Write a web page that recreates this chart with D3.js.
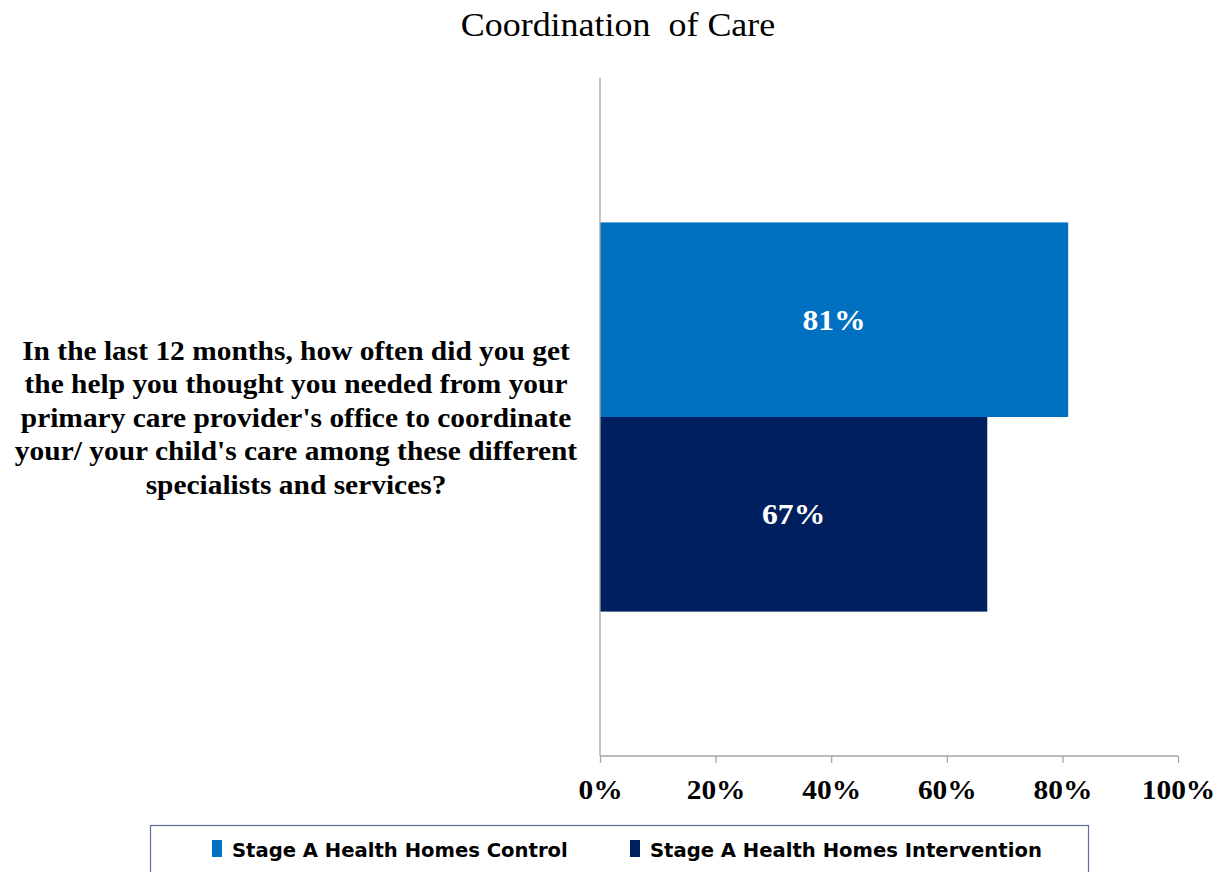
<!DOCTYPE html>
<html>
<head>
<meta charset="utf-8">
<script src="https://cdn.jsdelivr.net/npm/d3@7"></script>
<style>
  html, body { margin: 0; padding: 0; background: #fff; }
  svg { display: block; }
</style>
</head>
<body>
<svg id="chart" width="1223" height="872"></svg>
<script>
// Survey question (single category) and the two comparison groups
const questionLines = [
  "In the last 12 months, how often did you get",
  "the help you thought you needed from your",
  "primary care provider's office to coordinate",
  "your/ your child's care among these different",
  "specialists and services?"
];
const categories = ["coordination"];
const seriesNames = ["Stage A Health Homes Control", "Stage A Health Homes Intervention"];
const seriesColors = ["#0070C0", "#001F5F"];
const controlValues = [0.81];
const interventionValues = [0.67];
const xTicks = [0, 0.2, 0.4, 0.6, 0.8, 1.0];

const svg = d3.select("#chart");
const margin = { left: 600, right: 45, top: 78, bottom: 116 };
const W = 1223, H = 872;
const plotW = W - margin.left - margin.right;
const plotH = H - margin.top - margin.bottom;
const SX = 1.09;   // slightly widened lettering
const serif = "'Liberation Serif', 'Times New Roman', serif";

const x = d3.scaleLinear().domain([0, 1]).range([margin.left, margin.left + plotW]);
const y = d3.scaleBand().domain(categories).range([margin.top, margin.top + plotH])
  .paddingInner(0).paddingOuter(0.371);
const ySub = d3.scaleBand().domain(seriesNames).range([0, y.bandwidth()]).padding(0);

// Title
svg.append("text")
  .attr("transform", `translate(618,36) scale(${SX},1)`)
  .attr("text-anchor", "middle")
  .style("font-family", serif)
  .style("font-size", "33px")
  .attr("fill", "#000")
  .attr("xml:space", "preserve")
  .text("Coordination  of Care");

// Bars with value labels
const rows = categories.map((c, i) => ({
  cat: c,
  values: [controlValues[i], interventionValues[i]]
}));

const g = svg.append("g");
rows.forEach(r => {
  r.values.forEach((v, j) => {
    const yy = y(r.cat) + ySub(seriesNames[j]);
    g.append("rect")
      .attr("x", x(0))
      .attr("y", yy)
      .attr("width", x(v) - x(0))
      .attr("height", ySub.bandwidth())
      .attr("fill", seriesColors[j]);
    g.append("text")
      .attr("transform", `translate(${(x(0) + x(v)) / 2},${yy + ySub.bandwidth() / 2 + 10}) scale(${SX},1)`)
      .attr("text-anchor", "middle")
      .style("font-family", serif)
      .style("font-weight", "bold")
      .style("font-size", "29px")
      .attr("fill", "#fff")
      .text(d3.format(".0%")(v));
  });
});

// Vertical category axis line
svg.append("line")
  .attr("x1", x(0)).attr("x2", x(0))
  .attr("y1", margin.top).attr("y2", margin.top + plotH)
  .attr("stroke", "#a6a6a6").attr("stroke-width", 1.3);

// Category label
const lbl = svg.append("text")
  .attr("transform", `translate(296,0) scale(${SX},1)`)
  .attr("text-anchor", "middle")
  .style("font-family", serif)
  .style("font-weight", "bold")
  .style("font-size", "27px")
  .attr("fill", "#000");
questionLines.forEach((line, i) => {
  lbl.append("tspan")
    .attr("x", 0)
    .attr("y", 360 + i * 33.5)
    .text(line);
});

// Value axis
const xAxis = d3.axisBottom(x)
  .tickValues(xTicks)
  .tickFormat(d3.format(".0%"))
  .tickSize(7)
  .tickPadding(14);
const ax = svg.append("g")
  .attr("transform", `translate(0,${margin.top + plotH})`)
  .call(xAxis);
ax.select(".domain").attr("stroke", "#a6a6a6").attr("stroke-width", 1.3)
  .attr("d", `M${x(0)},0H${x(1)}`);
ax.selectAll(".tick line").attr("stroke", "#a6a6a6").attr("stroke-width", 1.3);
ax.selectAll(".tick text")
  .attr("y", 0).attr("dy", 0)
  .attr("transform", `translate(0,43) scale(${SX},1)`)
  .style("font-family", serif)
  .style("font-weight", "bold")
  .style("font-size", "27px")
  .attr("fill", "#000");

// Legend
svg.append("rect")
  .attr("x", 150.5).attr("y", 825.5)
  .attr("width", 938).attr("height", 60)
  .attr("fill", "#fff")
  .attr("stroke", "#5b6e96").attr("stroke-width", 1.2);

const legendX = [212, 630];
seriesNames.forEach((name, j) => {
  svg.append("rect")
    .attr("x", legendX[j]).attr("y", 840)
    .attr("width", 10).attr("height", 17)
    .attr("fill", seriesColors[j]);
  svg.append("text")
    .attr("transform", `translate(${legendX[j] + 20},857) scale(${SX},1)`)
    .style("font-family", "'DejaVu Sans Condensed', 'DejaVu Sans', sans-serif")
    .style("font-stretch", "condensed")
    .style("font-weight", "bold")
    .style("font-size", "20px")
    .attr("fill", "#000")
    .text(name);
});
</script>
</body>
</html>
